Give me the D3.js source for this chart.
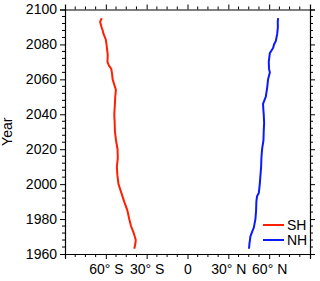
<!DOCTYPE html>
<html>
<head>
<meta charset="utf-8">
<script src="https://cdn.jsdelivr.net/npm/d3@7"></script>
<style>
  body { margin: 0; background: #fff; }
  text { font-family: "Liberation Sans", Arial, sans-serif; fill: #000; }
</style>
</head>
<body>
<div id="chart"></div>
<script>
var width = 320, height = 281;
var margin = {top: 9.5, right: 10, bottom: 27, left: 65};

// SH (red) and NH (blue) latitude vs year
var shYears = [1963, 1966, 1968, 1972, 1976, 1980, 1985, 1990, 1995, 2000, 2005, 2010, 2015, 2020, 2025, 2030, 2035, 2040, 2045, 2050, 2054, 2057, 2060, 2063, 2066, 2068, 2070, 2074, 2078, 2080, 2083, 2086, 2088, 2090, 2093, 2095];
var shLat = [-39.1, -38.3, -38.0, -39.5, -41.5, -42.8, -44.2, -46.5, -48.6, -50.7, -51.5, -51.9, -51.2, -51.4, -52.5, -53.3, -53.5, -53.8, -53.4, -53.1, -52.6, -53.8, -55.0, -55.4, -56.0, -57.8, -58.8, -58.6, -59.2, -59.5, -60.1, -61.7, -62.3, -63.2, -64.2, -63.0];

var nhYears = [1963, 1966, 1968, 1970, 1973, 1975, 1978, 1980, 1985, 1990, 1993, 1995, 2000, 2005, 2010, 2015, 2020, 2025, 2030, 2035, 2040, 2043, 2046, 2050, 2055, 2060, 2064, 2066, 2070, 2075, 2078, 2080, 2082, 2086, 2090, 2093, 2095];
var nhLat = [45.2, 45.5, 45.9, 46.2, 47.6, 48.7, 49.4, 49.9, 50.4, 50.6, 51.1, 52.4, 53.1, 53.6, 54.1, 54.3, 54.8, 55.8, 56.0, 56.3, 56.0, 55.7, 55.5, 57.5, 58.5, 59.2, 60.5, 59.9, 59.7, 60.5, 62.9, 63.6, 64.9, 65.9, 66.4, 66.3, 66.6];

var xTicks = [-60, -30, 0, 30, 60];
var yTicks = [1960, 1980, 2000, 2020, 2040, 2060, 2080, 2100];

var legendItems = [
  {name: "SH", color: "#ff1f00"},
  {name: "NH", color: "#0a1aff"}
];

var fontSize = "14px";

var svg = d3.select("#chart").append("svg")
    .attr("width", width)
    .attr("height", height);

var x = d3.scaleLinear().domain([-90, 90]).range([margin.left, width - margin.right]);
var y = d3.scaleLinear().domain([1960, 2100]).range([height - margin.bottom, margin.top]);

function latFmt(d) {
  if (d === 0) return "0";
  return Math.abs(d) + "\u00B0 " + (d < 0 ? "S" : "N");
}

var minorX = d3.range(-90, 90.01, 7.5).filter(d => d % 30 !== 0);
var minorY = d3.range(1960, 2100.01, 4).filter(d => d % 20 !== 0);

// bottom axis
var gb = svg.append("g").attr("transform", `translate(0,${y(1960)})`);
gb.call(d3.axisBottom(x).tickValues(xTicks).tickFormat(latFmt).tickSize(5).tickPadding(5));
gb.selectAll(".minor").data(minorX).enter().append("line")
  .attr("x1", d => x(d)).attr("x2", d => x(d)).attr("y1", 0).attr("y2", 3).attr("stroke", "#000");

// top axis
var gt = svg.append("g").attr("transform", `translate(0,${y(2100)})`);
gt.call(d3.axisTop(x).tickValues(xTicks).tickFormat("").tickSize(5));
gt.selectAll(".minor").data(minorX).enter().append("line")
  .attr("x1", d => x(d)).attr("x2", d => x(d)).attr("y1", 0).attr("y2", -3).attr("stroke", "#000");

// left axis
var gl = svg.append("g").attr("transform", `translate(${x(-90)},0)`);
gl.call(d3.axisLeft(y).tickValues(yTicks).tickFormat(d3.format("d")).tickSize(5).tickPadding(3));
gl.selectAll(".minor").data(minorY).enter().append("line")
  .attr("y1", d => y(d)).attr("y2", d => y(d)).attr("x1", 0).attr("x2", -3).attr("stroke", "#000");

// right axis
var gr = svg.append("g").attr("transform", `translate(${x(90)},0)`);
gr.call(d3.axisRight(y).tickValues(yTicks).tickFormat("").tickSize(5));
gr.selectAll(".minor").data(minorY).enter().append("line")
  .attr("y1", d => y(d)).attr("y2", d => y(d)).attr("x1", 0).attr("x2", 3).attr("stroke", "#000");

svg.selectAll(".domain").attr("stroke", "#000").attr("stroke-width", 1.2);
svg.selectAll(".tick line").attr("stroke", "#000");
svg.selectAll(".tick text").style("font-size", fontSize).style("font-family", "Liberation Sans, Arial, sans-serif");

svg.append("text")
  .attr("transform", `translate(12,${(y(1960) + y(2100)) / 2}) rotate(-90)`)
  .attr("text-anchor", "middle")
  .style("font-size", fontSize)
  .text("Year");

var line = d3.line().x(d => x(d[1])).y(d => y(d[0]));

svg.append("path")
  .datum(shYears.map((yr, i) => [yr, shLat[i]]))
  .attr("fill", "none").attr("stroke", legendItems[0].color).attr("stroke-width", 2)
  .attr("d", line);

svg.append("path")
  .datum(nhYears.map((yr, i) => [yr, nhLat[i]]))
  .attr("fill", "none").attr("stroke", legendItems[1].color).attr("stroke-width", 2)
  .attr("d", line);

// legend
var lg = svg.selectAll(".legend").data(legendItems).enter().append("g")
  .attr("transform", (d, i) => `translate(263,${225 + i * 15})`);
lg.append("line").attr("x1", 0).attr("x2", 21).attr("y1", 0).attr("y2", 0)
  .attr("stroke", d => d.color).attr("stroke-width", 2);
lg.append("text").attr("x", 24).attr("y", 5).style("font-size", fontSize).text(d => d.name);
</script>
</body>
</html>
